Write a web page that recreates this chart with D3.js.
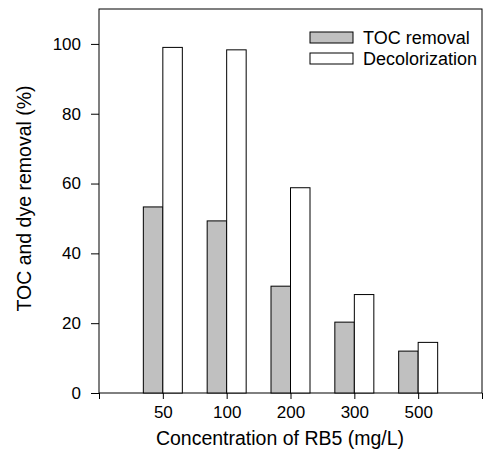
<!DOCTYPE html>
<html>
<head>
<meta charset="utf-8">
<script src="https://cdn.jsdelivr.net/npm/d3@7/dist/d3.min.js"></script>
<style>
  html, body { margin: 0; padding: 0; background: #fff; }
  svg { display: block; font-family: Arial, "Liberation Sans", sans-serif; }
</style>
</head>
<body>
<svg id="chart" width="485" height="450"></svg>
<script>
// RB5 concentration categories (mg/L)
const concentrations = ["50", "100", "200", "300", "500"];
// Removal percentages for each concentration
const tocRemoval = [53.3, 49.3, 30.6, 20.3, 12.0];
const decolorization = [99.0, 98.3, 58.8, 28.2, 14.5];
const yTicks = [0, 20, 40, 60, 80, 100];
const seriesNames = ["TOC removal", "Decolorization"];
const seriesFills = ["#c0c0c0", "#ffffff"];

const svg = d3.select("#chart");
const plot = { left: 99, right: 482, top: 9, bottom: 393 };

// Slots: an empty slot at each end plus one per concentration
const slots = ["", ...concentrations, " "];
const x = d3.scalePoint().domain(slots).range([plot.left, plot.right]);
const y = d3.scaleLinear().domain([0, 110]).range([plot.bottom, plot.top]);
const barW = 19.5;

// Frame
svg.append("rect")
  .attr("x", plot.left).attr("y", plot.top)
  .attr("width", plot.right - plot.left).attr("height", plot.bottom - plot.top)
  .attr("fill", "none").attr("stroke", "#000").attr("stroke-width", 1);

// Bars
const series = [tocRemoval, decolorization];
series.forEach((vals, si) => {
  svg.append("g").selectAll("rect")
    .data(concentrations.map((c, i) => ({ c, v: vals[i] })))
    .join("rect")
    .attr("x", d => x(d.c) + (si === 0 ? -barW : 0))
    .attr("y", d => y(d.v))
    .attr("width", barW)
    .attr("height", d => y(0) - y(d.v))
    .attr("fill", seriesFills[si])
    .attr("stroke", "#000")
    .attr("stroke-width", 1);
});

// Y axis
const yAxis = svg.append("g")
  .attr("transform", `translate(${plot.left},0)`)
  .call(d3.axisLeft(y).tickValues(yTicks).tickSize(8).tickPadding(10).tickFormat(d3.format("d")));
yAxis.select(".domain").remove();
yAxis.selectAll("text").attr("font-size", 17).attr("fill", "#000");

// X axis
const xAxis = svg.append("g")
  .attr("transform", `translate(0,${plot.bottom})`)
  .call(d3.axisBottom(x).tickSize(6).tickPadding(7));
xAxis.select(".domain").remove();
xAxis.selectAll("text").attr("font-size", 17).attr("fill", "#000");

// Axis titles
svg.append("text")
  .attr("x", 280).attr("y", 445)
  .attr("text-anchor", "middle").attr("font-size", 19.5)
  .text("Concentration of RB5 (mg/L)");
svg.append("text")
  .attr("transform", "translate(31,198.5) rotate(-90)")
  .attr("text-anchor", "middle").attr("font-size", 19.5)
  .text("TOC and dye removal (%)");

// Legend
const legend = svg.append("g");
seriesNames.forEach((name, i) => {
  const ly = 32 + i * 21;
  legend.append("rect")
    .attr("x", 310).attr("y", ly).attr("width", 43).attr("height", 11)
    .attr("fill", seriesFills[i]).attr("stroke", "#000").attr("stroke-width", 1);
  legend.append("text")
    .attr("x", 363).attr("y", ly + 12)
    .attr("font-size", 18).text(name);
});
</script>
</body>
</html>
